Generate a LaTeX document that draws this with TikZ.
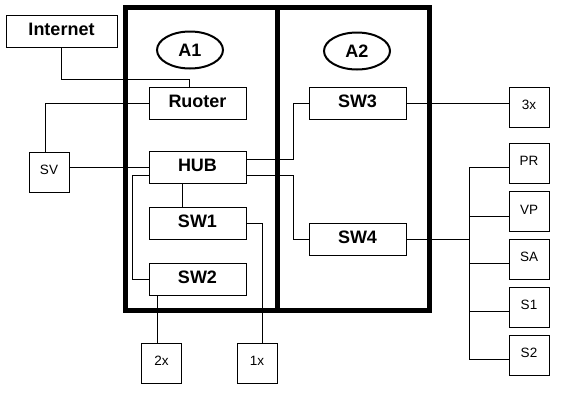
\documentclass[tikz,border=0pt]{standalone}
\usepackage{fontspec}
\setmainfont{Liberation Sans}
\usetikzlibrary{shapes.geometric}
\begin{document}
\begin{tikzpicture}[x=1pt, y=-1pt, line width=0.8pt, line join=miter,
	box/.style={draw, minimum width=97pt, minimum height=32pt, inner sep=0pt, text height=12pt, text depth=4pt, font=\fontsize{18}{18}\selectfont\bfseries},
	leaf/.style={draw, minimum size=40pt, inner sep=0pt, text height=9pt, text depth=4pt, font=\fontsize{13.5}{13.5}\selectfont},
	area/.style={draw, ellipse, line width=2pt, minimum width=66pt, minimum height=37pt, inner sep=0pt, font=\fontsize{18}{18}\selectfont\bfseries}]
			\useasboundingbox (0,0) rectangle (573,402);
			\draw[line width=5pt] (125.5,7) rectangle (429.5,310.5);
			\draw[line width=5pt] (277.5,7)--(277.5,310.5);
			\node[area] (a1) at (190,50) {A1};
			\node[area] (a2) at (357,51) {A2};
			\node[box, minimum width=111pt] (inet) at (61.5,31) {Internet};
			\node[box] (ruoter) at (197.5,103) {Ruoter};
			\node[box] (hub) at (197.5,167.5) {HUB};
			\node[box] (sw1) at (197.5,223) {SW1};
			\node[box] (sw2) at (197.5,279) {SW2};
			\node[box] (sw3) at (357.5,103) {SW3};
			\node[box] (sw4) at (357.5,239) {SW4};
			\node[leaf] (sv) at (49,172) {SV};
			\node[leaf] (x2) at (161.5,363) {2x};
			\node[leaf] (x1) at (257,363) {1x};
			\node[leaf] (x3) at (529,107) {3x};
			\coordinate (bus) at (469,239);
			\draw (inet.south)--++(0,32)-|([xshift=-8.5pt]ruoter.north);
			\draw (ruoter.west)-|([xshift=-4pt]sv.north);
			\draw (hub.west)--(hub.west-|sv.east);
			\draw ([yshift=8.5pt]hub.east)--++(47,0)|-(sw3.west);
			\draw ([yshift=-7.5pt]hub.east)--++(47,0)|-(sw4.west);
			\draw ([xshift=-15.5pt]hub.south)--([xshift=-15.5pt]sw1.north);
			\draw ([yshift=-7.5pt]hub.west)--++(-16,0)|-(sw2.west);
			\draw (sw1.east)-|([xshift=5pt]x1.north);
			\draw ([xshift=-40.5pt]sw2.south)--([xshift=-40.5pt]sw2.south|-x2.north);
			\draw (sw3.east)--(sw3.east-|x3.west);
			\draw (sw4.east)--(bus);
			\foreach \name/\txt/\y in {pr/PR/163,vp/VP/211.5,sa/SA/259,sone/S1/307,stwo/S2/355}
			{
			\node[leaf] (\name) at (529,\y) {\txt};
			\draw ([yshift=-4.5pt]\name.west)-|(bus);
			}
		\end{tikzpicture}
\end{document}
